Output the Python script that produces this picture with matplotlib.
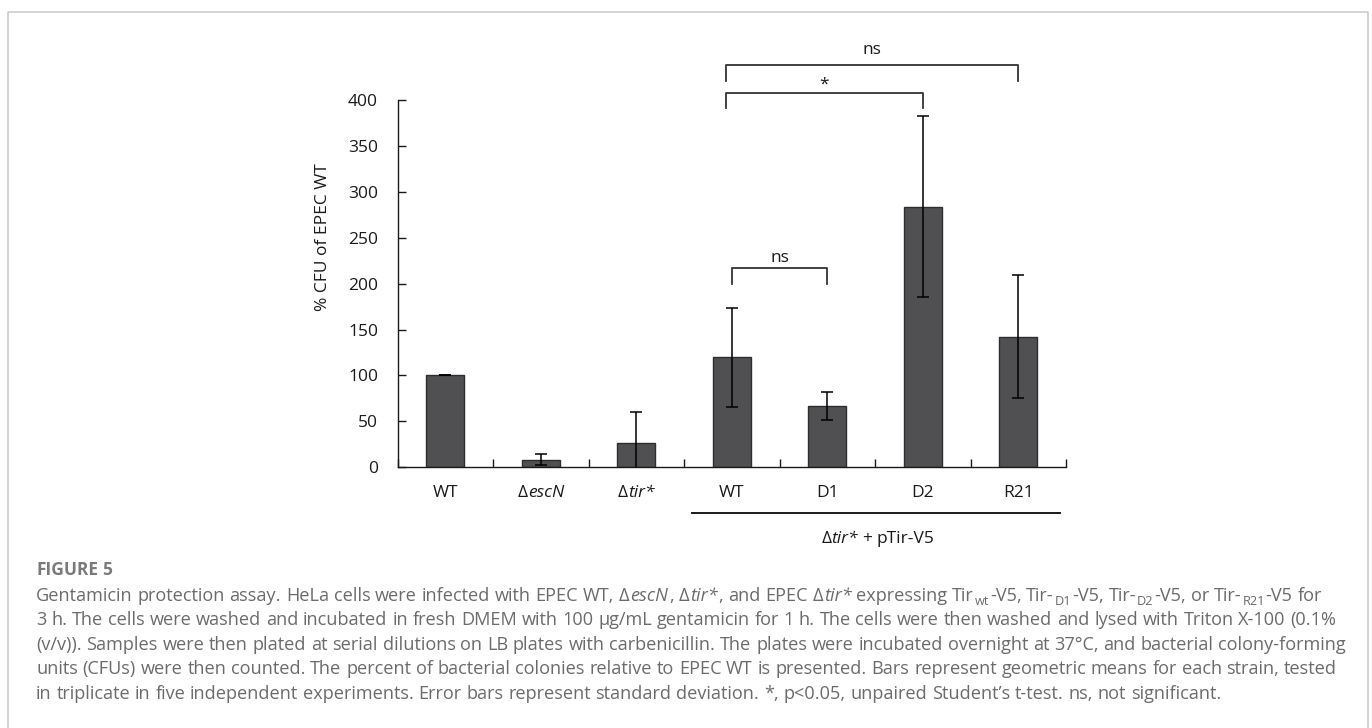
import re
import matplotlib
matplotlib.use("Agg")
import matplotlib.pyplot as plt
from matplotlib.font_manager import FontProperties
from matplotlib.transforms import IdentityTransform, blended_transform_factory
from matplotlib.lines import Line2D

# ---------------- data ----------------
categories = ["WT", "\u0394/{escN}", "\u0394/{tir*}", "WT", "D1", "D2", "R21"]
means = [100, 8, 26, 120, 67, 284, 142]
errors = [0, 6, 34, 54, 15, 99, 67]
group_label = "\u0394/{tir*} + pTir-V5"
group_span = (3, 7)          # categories 4..7 belong to the group
# brackets: (left category, right category, label)
brackets = [(3, 4, "ns"), (3, 5, "*"), (3, 6, "ns")]
bracket_levels = [217, 408, 438]
ylabel = "% CFU of EPEC WT"
yticks = [0, 50, 100, 150, 200, 250, 300, 350, 400]

caption_title = "FIGURE 5"
caption_lines = [
    "Gentamicin protection assay. HeLa cells were infected with EPEC WT, \u0394/{escN}, \u0394/{tir*}, and EPEC \u0394/{tir*} expressing Tir_{wt}-V5, Tir-_{D1}-V5, Tir-_{D2}-V5, or Tir-_{R21}-V5 for",
    "3 h. The cells were washed and incubated in fresh DMEM with 100 \u00b5g/mL gentamicin for 1 h. The cells were then washed and lysed with Triton X-100 (0.1%",
    "(v/v)). Samples were then plated at serial dilutions on LB plates with carbenicillin. The plates were incubated overnight at 37\u00b0C, and bacterial colony-forming",
    "units (CFUs) were then counted. The percent of bacterial colonies relative to EPEC WT is presented. Bars represent geometric means for each strain, tested",
    "in triplicate in five independent experiments. Error bars represent standard deviation. *, p<0.05, unpaired Student\u2019s t-test. ns, not significant.",
]

# ---------------- figure ----------------
W, H = 1372, 728
fig = plt.figure(figsize=(W / 100, H / 100), dpi=100)
renderer = fig.canvas.get_renderer()
ID = IdentityTransform()

CHART_FONT = ["Open Sans", "DejaVu Sans"]
CAP_FONT = ["Open Sans", "DejaVu Sans"]


def parse(word):
    out = []
    for tok in re.split(r"(_\{[^}]*\}|/\{[^}]*\})", word):
        if not tok:
            continue
        if tok.startswith("_{"):
            out.append((tok[2:-1], "sub"))
        elif tok.startswith("/{"):
            out.append((tok[2:-1], "it"))
        else:
            out.append((tok, "n"))
    return out


def props(family, size, kind, weight):
    if kind == "sub":
        return FontProperties(family=family, size=size * 0.7, weight=weight)
    if kind == "it":
        return FontProperties(family=family, size=size, style="italic", weight=weight)
    return FontProperties(family=family, size=size, weight=weight)


def width(text, prop):
    t = fig.text(0, 0, text, fontproperties=prop, transform=ID)
    w = t.get_window_extent(renderer).width
    t.remove()
    return w


def measure(line, family, size, weight="normal", gap=0.8):
    words = line.split(" ")
    base = FontProperties(family=family, size=size, weight=weight)
    space = width("a a", base) - width("aa", base)
    wlist = []
    for w in words:
        segs = parse(w)
        items = []
        tot = 0
        for i, (s, k) in enumerate(segs):
            p = props(family, size, k, weight)
            sw = width(s, p)
            items.append((s, k, p, sw))
            tot += sw + (gap if i < len(segs) - 1 else 0)
        wlist.append((items, tot))
    total = sum(t for _, t in wlist) + space * (len(words) - 1)
    return wlist, space, total


def rich_line(line, x, baseline, family, size, color, ha="left",
              weight="normal", gap=0.8, zorder=5):
    """baseline given in pixels from the top of the image."""
    wlist, space, total = measure(line, family, size, weight, gap)
    cx = x - total / 2 if ha == "center" else x
    y0 = H - baseline
    for items, tot in wlist:
        px = cx
        for s, k, p, sw in items:
            dy = -size * 1.3889 * 0.2 if k == "sub" else 0
            fig.text(px, y0 + dy, s, fontproperties=p, color=color,
                     ha="left", va="baseline", transform=ID, zorder=zorder)
            px += sw + gap
        cx += tot + space


# border of the figure panel
fig.add_artist(Line2D([8, 8, 1368, 1368], [0, H - 12, H - 12, 0],
                      transform=ID, color="#c9c9c9", lw=1.1))

# ---------------- chart ----------------
ax_left, ax_right = 397.5, 1066.0
y0px, y400px = 467.3, 100.0
ax = fig.add_axes([ax_left / W, (H - y0px) / H, (ax_right - ax_left) / W,
                   (y0px - y400px) / H])
xpos = [i + 0.5 for i in range(len(categories))]
ax.bar(xpos, means, width=0.4, color="#505052", edgecolor="#2e2e2e",
       linewidth=1.0, zorder=2)
ax.errorbar(xpos, means, yerr=errors, fmt="none", ecolor="black",
            elinewidth=1.1, capsize=4, capthick=1.1, zorder=3)
ax.set_xlim(0, len(categories))
ax.set_ylim(0, 400)
for s in ("top", "right"):
    ax.spines[s].set_visible(False)
for s in ("left", "bottom"):
    ax.spines[s].set_linewidth(1.0)
    ax.spines[s].set_color("#1a1a1a")
ax.set_yticks(yticks)
ax.set_xticks(range(len(categories) + 1))
ax.set_xticklabels([])
ax.tick_params(axis="y", direction="in", length=6, width=1, pad=14,
               labelsize=12.5, colors="#1a1a1a")
ax.tick_params(axis="x", direction="in", length=6, width=1, colors="#1a1a1a")
for lab in ax.get_yticklabels():
    lab.set_fontfamily(CHART_FONT)
ax.set_ylabel(ylabel, fontsize=12.5, family=CHART_FONT, color="#1a1a1a")
ax.yaxis.set_label_coords(-0.099, 0.627)

# category labels (rich text, positioned via the data transform)
for xc, lab in zip(xpos, categories):
    px, _ = ax.transData.transform((xc, 0))
    rich_line(lab, px, 497, CHART_FONT, 12.5, "#1a1a1a", ha="center", gap=0)

# group line and label
blend = blended_transform_factory(ax.transData, ax.transAxes)
ax.plot([group_span[0] + 0.08, group_span[1] - 0.06], [-0.125, -0.125],
        transform=blend, color="#1a1a1a", lw=1.4, clip_on=False)
gx, _ = ax.transData.transform(((group_span[0] + group_span[1]) / 2 + 0.03, 0))
rich_line(group_label, gx, 543, CHART_FONT, 12.5, "#1a1a1a", ha="center", gap=0)

# significance brackets
leg = 17
for (a, b, lab), lvl in zip(brackets, bracket_levels):
    xa = xpos[a] - (0.06 if b > a + 1 else 0)
    xb = xpos[b]
    ax.plot([xa, xa, xb, xb], [lvl - leg, lvl, lvl, lvl - leg], color="#333333",
            lw=1.3, clip_on=False, zorder=4)
    off = 4 if lab == "*" else (7 if b == a + 1 else 12)
    ax.text((xa + xb) / 2, lvl + off, lab, ha="center", va="baseline",
            fontsize=12.5, family=CHART_FONT, color="#1a1a1a", clip_on=False)

# ---------------- caption ----------------
CAP_COLOR = "#6b6b6b"
widest = max(measure(l, CAP_FONT, 10)[2] for l in caption_lines)
cap_size = 10 * (1347 - 36) / widest
rich_line(caption_title, 36, 575, CAP_FONT, cap_size * 0.96, "#7a7a7a",
          weight="bold")
for i, line in enumerate(caption_lines):
    rich_line(line, 36, 601 + 24.4 * i, CAP_FONT, cap_size, CAP_COLOR)

fig.savefig("out.png", dpi=100)
